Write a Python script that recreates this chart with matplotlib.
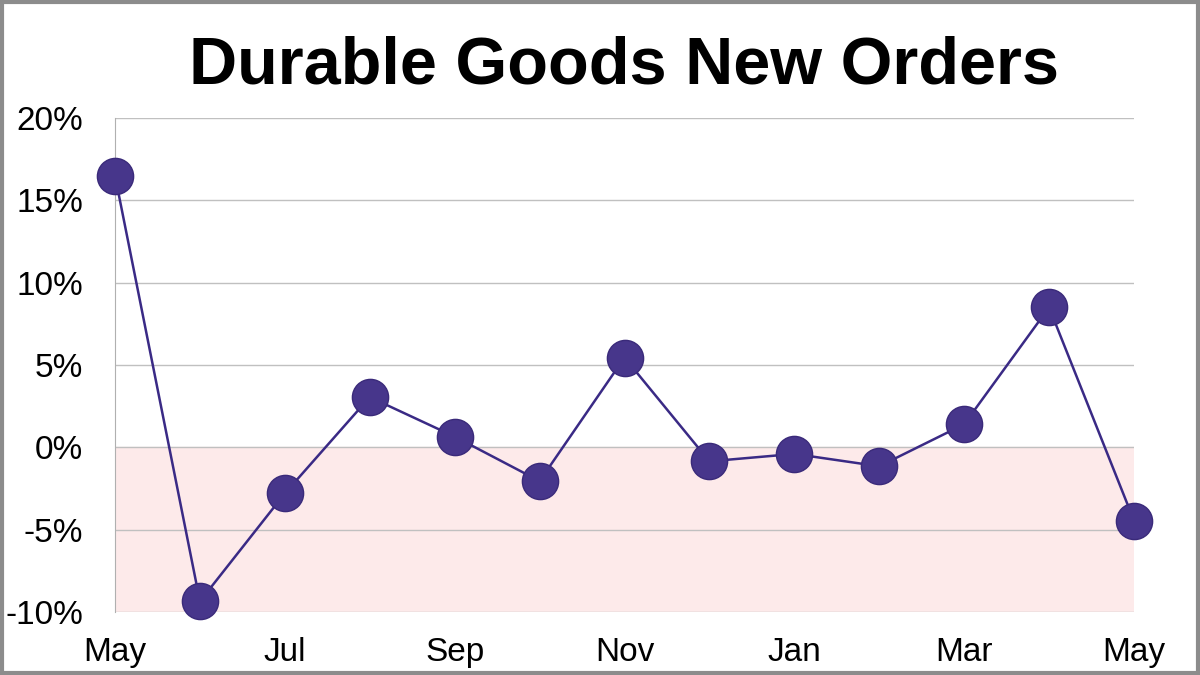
import matplotlib.pyplot as plt
from matplotlib.patches import Rectangle

# Monthly % change, May through the following May
months = ["May", "Jun", "Jul", "Aug", "Sep", "Oct", "Nov",
          "Dec", "Jan", "Feb", "Mar", "Apr", "May"]
changes = [16.5, -9.35, -2.8, 3.05, 0.65, -2.05, 5.45,
           -0.85, -0.4, -1.15, 1.4, 8.5, -4.45]
yticks = [-10, -5, 0, 5, 10, 15, 20]

plt.rcParams['font.family'] = ['Liberation Sans', 'DejaVu Sans']

fig = plt.figure(figsize=(12, 6.75), dpi=100)
ax = fig.add_axes([115 / 1200, 1 - 612 / 675, (1134 - 115) / 1200, (612 - 118) / 675])

x = list(range(len(months)))

# Shade the negative region
ax.axhspan(-10, 0, color='#fdeaea', zorder=0)

ax.plot(x, changes, color='#3a2a85', lw=1.8, zorder=3, clip_on=False)
ax.scatter(x, changes, s=680, color='#47368b', edgecolor='#3a2a7a',
           linewidth=1, zorder=4, clip_on=False)

ax.set_xlim(0, len(months) - 1)
ax.set_ylim(-10, 20)
ax.set_yticks(yticks)
ax.set_yticklabels([f"{v}%" for v in yticks])
ax.set_xticks(x[::2])
ax.set_xticklabels(months[::2])

ax.grid(axis='y', color='#c0c0c0', lw=1)
ax.set_axisbelow(True)
for side in ['top', 'right', 'bottom']:
    ax.spines[side].set_visible(False)
ax.spines['left'].set_color('#b0b0b0')
ax.tick_params(axis='both', length=0, labelsize=24, colors='black')
ax.tick_params(axis='y', pad=23)
ax.tick_params(axis='x', pad=18)

# Title centred over the plot area
fig.text(624 / 1200, 1 - 66 / 675, "Durable Goods New Orders", fontsize=48,
         fontweight='bold', ha='center', va='center')

# Gray frame round the whole picture
fig.patches.append(Rectangle((0.0015, 0.0025), 0.997, 0.995, transform=fig.transFigure,
                             fill=False, edgecolor='#8c8c8c', lw=3))

fig.savefig("out.png", dpi=100)
